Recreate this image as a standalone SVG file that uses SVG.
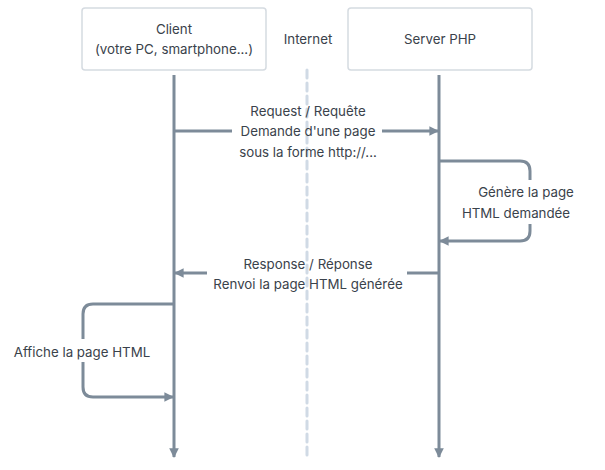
<svg xmlns="http://www.w3.org/2000/svg" width="605" height="470" viewBox="0 0 605 470">
<defs>
<style>
.box{fill:#fff;stroke:#d5dbe1;stroke-width:1.5}
.t{font-family:"Inter","Noto Sans",sans-serif;font-size:13.3px;fill:#3a424b;text-anchor:middle}
.ln{fill:none;stroke:#7d8b99;stroke-width:3}
.dash{fill:none;stroke:#d0dae5;stroke-width:3;stroke-dasharray:8 5;stroke-linecap:round}
</style>
<marker id="ah" viewBox="0 0 10 10" refX="9" refY="5" markerWidth="3.2" markerHeight="3.2" orient="auto" markerUnits="strokeWidth">
<path d="M0,0 L10,5 L0,10 z" fill="#7d8b99"/>
</marker>
</defs>
<rect width="605" height="470" fill="#fff"/>
<g id="client">
<rect class="box" x="82" y="8" width="184" height="62" rx="3"/>
<text class="t" x="174" y="34">Client</text>
<text class="t" x="174" y="54">(votre PC, smartphone...)</text>
</g>
<g id="server">
<rect class="box" x="348" y="8" width="184" height="62" rx="3"/>
<text class="t" x="440" y="44">Server PHP</text>
</g>
<g id="internet">
<text class="t" x="308" y="44">Internet</text>
</g>
<g id="connectors">
<path class="dash" d="M307,70 V455"/>
<path class="ln" d="M174,75 V457" marker-end="url(#ah)"/>
<path class="ln" d="M439,75 V457" marker-end="url(#ah)"/>
<path class="ln" d="M174,131 H232"/>
<path class="ln" d="M382,131 H438" marker-end="url(#ah)"/>
<path class="ln" d="M439,161 H520 Q530,161 530,171 V180"/>
<path class="ln" d="M530,224 V231 Q530,241 520,241 H440" marker-end="url(#ah)"/>
<path class="ln" d="M439,273 H407"/>
<path class="ln" d="M207,273 H175" marker-end="url(#ah)"/>
<path class="ln" d="M174,304 H93 Q83,304 83,314 V339"/>
<path class="ln" d="M83,362 V387 Q83,397 93,397 H173" marker-end="url(#ah)"/>
</g>
<g id="labels">
<text class="t" x="308" y="116">Request / Requête</text>
<text class="t" x="308" y="136">Demande d'une page</text>
<text class="t" x="308" y="157">sous la forme http://...</text>
<text class="t" x="526" y="197">Génère la page</text>
<text class="t" x="516" y="218">HTML demandée</text>
<text class="t" x="308" y="269">Response / Réponse</text>
<text class="t" x="308" y="289">Renvoi la page HTML générée</text>
<text class="t" x="82" y="357">Affiche la page HTML</text>
</g>
</svg>
